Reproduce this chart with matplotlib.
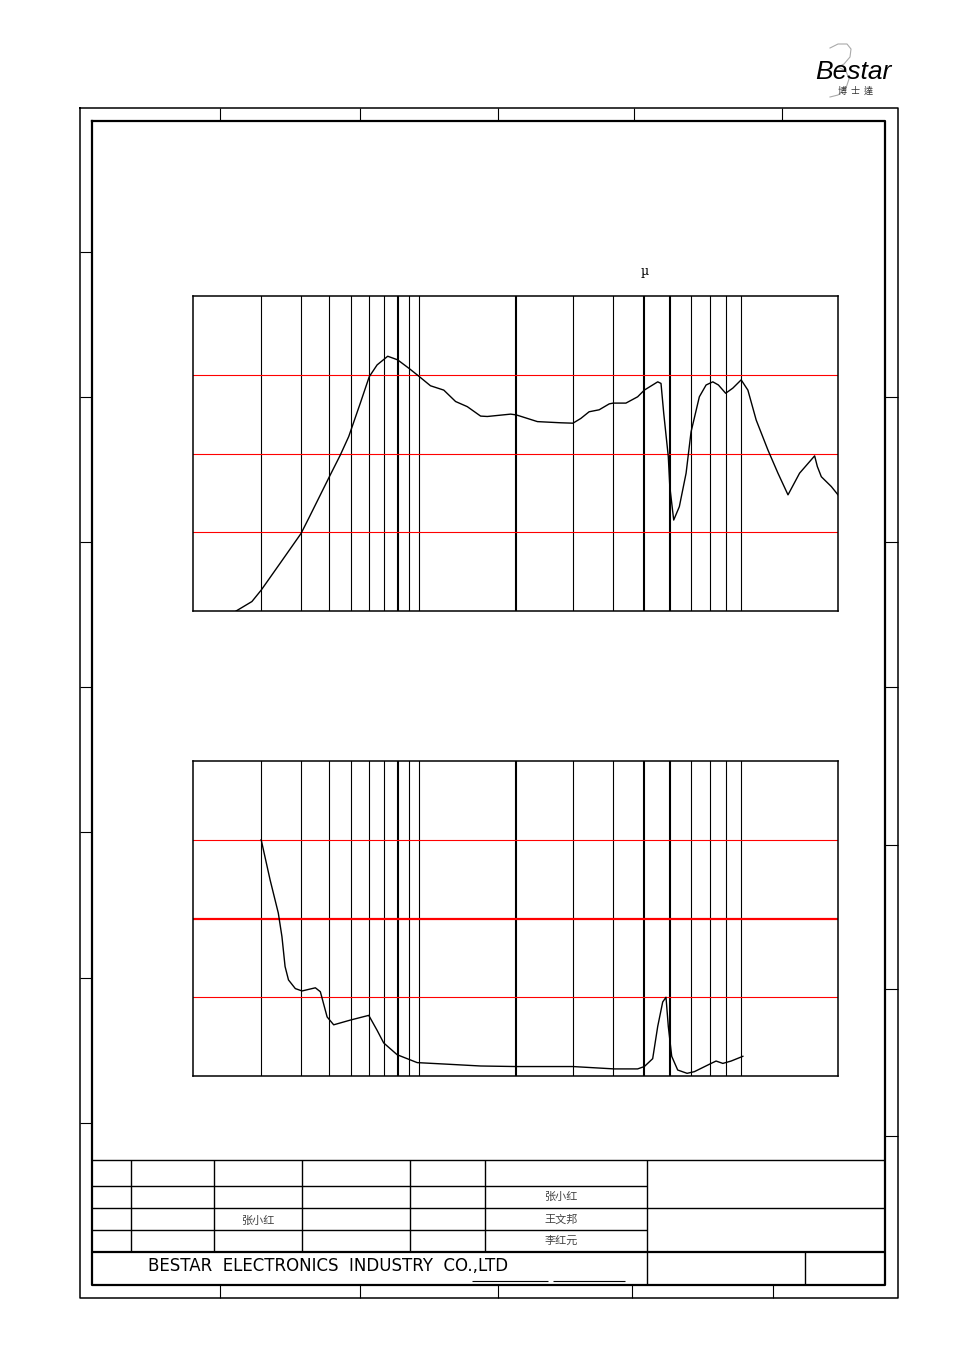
import numpy as np
import matplotlib
matplotlib.use("Agg")
import matplotlib.pyplot as plt

# top chart: sound pressure curve (Hz, dB)
freq1 = [155, 182, 200, 243, 300, 324, 400, 447, 487, 548, 600, 650, 724,
         800, 900, 1000, 1082, 1190, 1295, 1408, 1549, 1625, 1921, 2000,
         2326, 2750, 3000, 3173, 3368, 3619, 3889, 4000, 4383, 4766, 5000,
         5503, 5634, 5745, 5936, 6000, 6170, 6424, 6742, 6986, 7413, 7780,
         8164, 8497, 8950, 9420, 10000, 10493, 11135, 12110, 13013, 13983,
         15190, 16920, 17250, 17750, 19070, 20000]
spl1 = [40, 42.4, 45.3, 52.2, 59.7, 63.5, 74.1, 79.6, 84.3, 92.8, 99.5,
        102.5, 104.7, 103.8, 101.6, 99.5, 97.2, 96.1, 93.2, 91.9, 89.5, 89.4,
        90.0, 89.8, 88.1, 87.8, 87.7, 88.9, 90.6, 91.1, 92.6, 92.8, 92.8,
        94.4, 96.1, 98.2, 97.8, 90.2, 79.2, 71.6, 63.1, 66.5, 75.0, 85.5,
        94.4, 97.4, 98.2, 97.4, 95.3, 96.6, 98.7, 96.1, 88.5, 80.9, 75.0,
        69.5, 75.0, 79.4, 76.7, 74.1, 71.6, 69.5]

# bottom chart: distortion curve (Hz, %)
freq2 = [200, 219, 238, 247, 255, 264, 283, 303, 347, 365, 391, 418, 495,
         597, 650, 695, 797, 977, 1220, 1549, 2000, 3000, 4030, 4766, 5000,
         5308, 5503, 5703, 5839, 5936, 6083, 6349, 6790, 7153, 8065, 8356,
         8770, 9307, 10122]
thd2 = [30.0, 24.9, 20.7, 17.7, 13.9, 12.2, 11.1, 10.8, 11.2, 10.7, 7.5,
        6.5, 7.1, 7.7, 5.8, 4.2, 2.7, 1.7, 1.5, 1.27, 1.2, 1.2, 0.9, 0.9,
        1.2, 2.2, 6.3, 9.4, 10.0, 6.3, 2.5, 0.76, 0.34, 0.55, 1.6, 1.9, 1.6,
        1.9, 2.5]

grid_freqs = [200, 300, 400, 500, 600, 700, 800, 900, 1000,
              2000, 3000, 4000, 5000, 6000, 7000, 8000, 9000, 10000]
thick_freqs = [800, 2000, 5000, 6000]

W, H = 954, 1351


def fwd(f):
    # chart paper: 100-1k decade is narrower than the 1k-20k decades
    lf = np.log10(np.clip(np.asarray(f, float), 1e-9, None))
    return np.where(lf <= 3, (lf - 2) * 226, 226 + (lf - 3) * 321)


def inv(u):
    u = np.asarray(u, float)
    return np.where(u <= 226, 10 ** (np.clip(u, -2000, 226) / 226 + 2),
                    10 ** ((np.clip(u, 226, 3000) - 226) / 321 + 3))


def chart(fig, top, x, y, ylim, hlines, thick_h):
    ax = fig.add_axes([193 / W, 1 - (top + 315) / H, 645 / W, 315 / H])
    ax.set_xscale("function", functions=(fwd, inv))
    ax.set_xlim(100, 20000)
    ax.set_ylim(*ylim)
    ax.set_xticks([])
    ax.set_yticks([])
    ax.minorticks_off()
    for s in ax.spines.values():
        s.set_linewidth(1.1)
    for f in grid_freqs:
        ax.axvline(f, color="black", lw=1.5 if f in thick_freqs else 0.8)
    for v in hlines:
        ax.axhline(v, color="red", lw=1.6 if v == thick_h else 0.8)
    ax.plot(x, y, color="black", lw=1.0)
    return ax


def line(ax, x0, y0, x1, y1, lw=1.0):
    ax.plot([x0, x1], [y0, y1], color="black", lw=lw, solid_capstyle="butt")


def main():
    fig = plt.figure(figsize=(W / 100, H / 100), dpi=100)
    page = fig.add_axes([0, 0, 1, 1])
    page.set_xlim(0, W)
    page.set_ylim(H, 0)
    page.axis("off")

    # drawing frame
    page.plot([80, 898, 898, 80, 80], [108, 108, 1298, 1298, 108],
              color="black", lw=1.1)
    page.plot([92, 885, 885, 92, 92], [121, 121, 1285, 1285, 121],
              color="black", lw=1.6)
    for yy in [252, 397, 542, 687, 832, 978, 1123]:
        line(page, 80, yy, 92, yy, 0.8)
    for yy in [397, 542, 687, 845, 989, 1136]:
        line(page, 885, yy, 898, yy, 0.8)
    for xx in [220, 360, 498, 634, 782]:
        line(page, xx, 108, xx, 121, 0.8)
    for xx in [220, 360, 498, 632, 773]:
        line(page, xx, 1285, xx, 1298, 0.8)

    # title block
    line(page, 92, 1160, 885, 1160)
    for yy in [1186, 1208, 1230]:
        line(page, 92, yy, 647, yy)
    line(page, 647, 1208, 885, 1208)
    line(page, 92, 1252, 885, 1252, 1.6)
    for xx in [131, 214, 302, 410, 485]:
        line(page, xx, 1160, xx, 1252)
    line(page, 647, 1160, 647, 1285)
    line(page, 805, 1252, 805, 1285)
    line(page, 472, 1281, 548, 1281, 0.8)
    line(page, 553, 1281, 625, 1281, 0.8)

    cjk = ["Noto Sans CJK SC", "DejaVu Sans"]
    for txt, xx, yy in [("张小红", 561, 1197), ("王文邦", 561, 1220),
                        ("李红元", 561, 1241), ("张小红", 258, 1221)]:
        page.text(xx, yy, txt, family=cjk, fontsize=8, color="#444444",
                  ha="center", va="center")
    page.text(148, 1266, "BESTAR  ELECTRONICS  INDUSTRY  CO.,LTD",
              family="DejaVu Sans", fontsize=12, ha="left", va="center")

    # logo: thin swash behind the B, then the name
    page.plot([830, 838, 847, 851, 850, 844, 838, 846, 849, 846, 838, 830],
              [48, 44, 44, 49, 57, 64, 67, 71, 79, 88, 95, 97],
              color="#aaaaaa", lw=0.8)
    page.text(853, 79, "Bestar", fontsize=19, style="italic",
              family="Liberation Sans", ha="center", va="baseline")
    page.text(856, 91, "博  士  達", fontsize=6.5,
              family=["Noto Sans CJK TC"], color="#333333",
              ha="center", va="center")

    page.text(645, 271, "µ", fontsize=9, family="DejaVu Serif",
              ha="center", va="center")

    chart(fig, 296, freq1, spl1, (40, 120), [60, 80, 100], None)
    chart(fig, 761, freq2, thd2, (0, 40), [10, 20, 30], 20)

    fig.savefig("out.png", dpi=100)
    return 0


if __name__ == "__main__":
    main()
